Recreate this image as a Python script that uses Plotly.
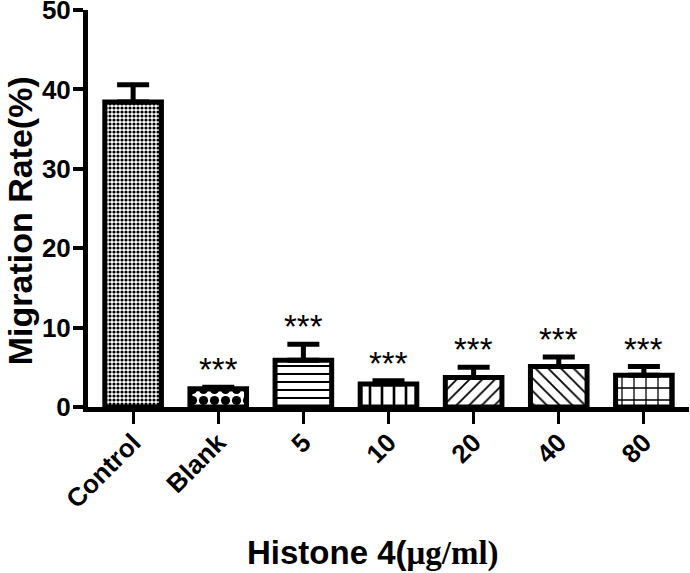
import plotly.graph_objects as go

categories = ["Control", "Blank", "5", "10", "20", "40", "80"]
values = [38.4, 2.3, 5.9, 2.9, 3.7, 5.1, 4.0]
errors = [2.2, 0.2, 2.0, 0.4, 1.3, 1.2, 1.1]
stars = ["", "***", "***", "***", "***", "***", "***"]
patterns = [".", ".", "-", "|", "/", "\\", "+"]
pattern_sizes = [4, 11, 8, 12, 9, 9, 12]
pattern_solid = [0.5, 0.55, 0.25, 0.22, 0.2, 0.2, 0.2]
y_ticks = [0, 10, 20, 30, 40, 50]

FONT = "Arial, 'Liberation Sans', sans-serif"

fig = go.Figure()
fig.add_trace(go.Bar(
    x=categories, y=values, width=0.665,
    marker=dict(color="white", line=dict(color="black", width=5),
                pattern=dict(shape=patterns, size=pattern_sizes, solidity=pattern_solid,
                             fgcolor="black", bgcolor="white", fgopacity=1, fillmode="overlay")),
    error_y=dict(type="data", array=errors, arrayminus=[0]*len(errors), symmetric=False,
                 color="black", thickness=5, width=16),
    showlegend=False,
))

for i, (v, e, s) in enumerate(zip(values, errors, stars)):
    if s:
        fig.add_annotation(x=i, y=v + e, text=s, showarrow=False, yanchor="bottom",
                           yshift=-3, font=dict(family=FONT, size=33, color="black"))

fig.add_annotation(xref="paper", yref="paper", x=-0.113, y=0.468, text="<b>Migration Rate(%)</b>",
                   textangle=-90, showarrow=False, xanchor="center", yanchor="middle",
                   font=dict(family=FONT, size=34, color="black"))
fig.add_annotation(xref="paper", yref="paper", x=0.475, y=-0.368,
                   text="<b>Histone 4(</b><b><span style='font-family:\"Liberation Serif\",\"Times New Roman\",serif'>μg/ml)</span></b>",
                   showarrow=False, xanchor="center", yanchor="middle",
                   font=dict(family=FONT, size=33, color="black"))

fig.update_layout(
    width=690, height=573,
    margin=dict(l=88, r=1, t=10, b=166),
    plot_bgcolor="white", paper_bgcolor="white",
    font=dict(family=FONT, color="black"),
)
fig.update_xaxes(range=[-0.53, 6.53], showline=True, linecolor="black", linewidth=5,
                 ticks="outside", ticklen=12, tickwidth=3, tickcolor="black",
                 tickangle=-45, tickfont=dict(family=FONT, size=26, color="black", weight="bold"),
                 showgrid=False, zeroline=False, automargin=False, ticklabelstandoff=-7)
fig.update_yaxes(range=[0, 50], tickvals=y_ticks, showline=True, linecolor="black", linewidth=5,
                 ticks="outside", ticklen=10, tickwidth=4, tickcolor="black",
                 tickfont=dict(family=FONT, size=26, color="black", weight="bold"),
                 showgrid=False, zeroline=False, automargin=False, ticklabeloverflow="allow",
                 ticklabelstandoff=-3)

fig.write_html("out.html", config={"displayModeBar": False},
               post_script="document.body.style.margin='0px';document.body.style.overflow='hidden';")
